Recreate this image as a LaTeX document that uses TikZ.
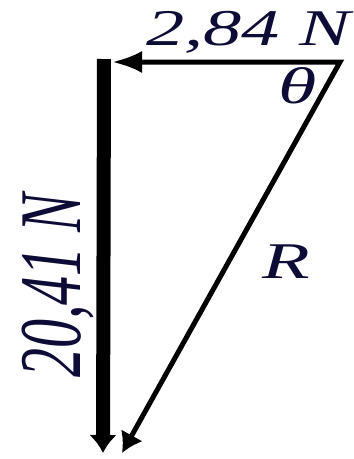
\documentclass[tikz,border=0pt]{standalone}
\usepackage{graphicx}
\usepackage{fontspec}
\setmainfont{Liberation Serif}
\usetikzlibrary{arrows.meta}
\definecolor{labelnavy}{RGB}{12,12,55}

\begin{document}
\begin{tikzpicture}
[x=1pt,y=-1pt, line join=miter,
	lbl/.style={inner sep=0pt,text=labelnavy,font=\fontsize{78}{80}\selectfont\itshape}]
\useasboundingbox (0,0) rectangle (354,459);

\coordinate (top) at (104,59);
\coordinate (bottom) at (103,453);
\coordinate (corner) at (340,62);
\coordinate (left) at (112,62);
\coordinate (end) at (122,453);

\node (force1) at (146,45)[lbl,anchor=base west] {\scalebox{0.98}[0.66]{2,84 N}};
\node (force2) at (80,378)[lbl,anchor=base west,rotate=90,font=\fontsize{88}{90}\selectfont\itshape] {\scalebox{0.66}[1]{20,41 N}};
\node (angle) at (278,103)[lbl,anchor=base west] {\scalebox{1}[0.66]{θ}};
\node (result) at (262,278)[lbl,anchor=base west] {\scalebox{1}[0.66]{R}};

\draw [line width=14pt,-{Latex[length=18pt,width=28pt]}] (top) -- (bottom);
\draw [line width=5pt,{Latex[length=30pt,width=22pt]}-{Latex[length=20pt,width=25pt]}] (left) -- (corner) -- (end);

\end{tikzpicture}
\end{document}
